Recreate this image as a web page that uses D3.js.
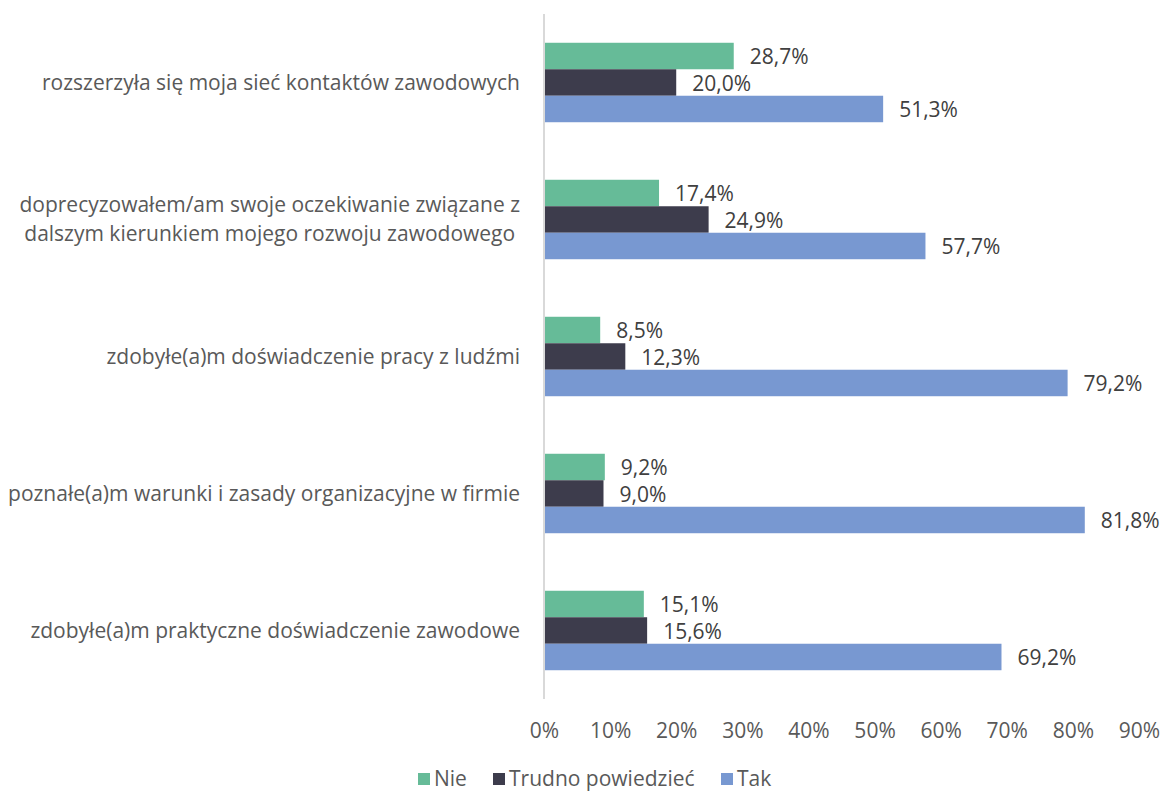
<!DOCTYPE html>
<html>
<head>
<meta charset="utf-8">
<script src="https://cdn.jsdelivr.net/npm/d3@7"></script>
<style>
  body { margin: 0; background: white; }
  svg { font-family: "Open Sans", sans-serif; }
</style>
</head>
<body>
<main></main>
<script>
// categories, top to bottom
const categories = [
    ["rozszerzyła się moja sieć kontaktów zawodowych"],
    ["doprecyzowałem/am swoje oczekiwanie związane z", "dalszym kierunkiem mojego rozwoju zawodowego"],
    ["zdobyłe(a)m doświadczenie pracy z ludźmi"],
    ["poznałe(a)m warunki i zasady organizacyjne w firmie"],
    ["zdobyłe(a)m praktyczne doświadczenie zawodowe"]
]
const seriesNames = ["Nie", "Trudno powiedzieć", "Tak"]
const nie = [28.7, 17.4, 8.5, 9.2, 15.1]
const trudno = [20.0, 24.9, 12.3, 9.0, 15.6]
const tak = [51.3, 57.7, 79.2, 81.8, 69.2]
const ticks = [0, 10, 20, 30, 40, 50, 60, 70, 80, 90]
const colors = ["#66bb98", "#3d3c4c", "#7898d1"]

const svgWidth = 1163
const svgHeight = 794

const plotLeft = 544
const plotRight = 1139
const plotTop = 14
const plotBottom = 699
const fontSize = "21px"

let svg = d3.select("main")
    .append("svg")
    .attr("width", svgWidth)
    .attr("height", svgHeight)

let rows = categories.map((c, i) => ({
    label: c,
    values: [nie[i], trudno[i], tak[i]]
}))

//scales
let xScale = d3.scaleLinear()
    .domain([0, 90])
    .range([plotLeft, plotRight])

let yScale = d3.scaleBand()
    .domain(d3.range(categories.length))
    .range([plotTop, plotBottom])
    .paddingInner(0.42)
    .paddingOuter(0.21)

let sScale = d3.scaleBand()
    .domain(d3.range(seriesNames.length))
    .range([0, yScale.bandwidth()])

let fmt = v => v.toFixed(1).replace(".", ",") + "%"

//bars
let groups = svg.selectAll("g.group")
    .data(rows)
    .enter()
    .append("g")
    .attr("class", "group")
    .attr("transform", (d, i) => `translate(0, ${yScale(i)})`)

groups.selectAll("rect")
    .data(d => d.values)
    .enter()
    .append("rect")
    .attr("x", xScale(0))
    .attr("y", (d, j) => sScale(j))
    .attr("width", d => xScale(d) - xScale(0))
    .attr("height", sScale.bandwidth())
    .attr("fill", (d, j) => colors[j])

groups.selectAll("text.val")
    .data(d => d.values)
    .enter()
    .append("text")
    .attr("class", "val")
    .attr("x", d => xScale(d) + 16)
    .attr("y", (d, j) => sScale(j) + sScale.bandwidth() / 2)
    .attr("dy", "0.4em")
    .attr("fill", "#404040")
    .style("font-size", fontSize)
    .text(fmt)

//category labels: block right-aligned at 520, lines centred inside it
let labels = groups.append("text")
    .attr("text-anchor", "middle")
    .attr("y", yScale.bandwidth() / 2)
    .attr("fill", "#595959")
    .style("font-size", fontSize)

labels.selectAll("tspan")
    .data(d => d.label)
    .enter()
    .append("tspan")
    .attr("dy", (d, i, n) => i == 0 ? `${0.35 - (n.length - 1) * 0.69}em` : "1.38em")
    .text(d => d)

labels.each(function() {
    let spans = d3.select(this).selectAll("tspan")
    let w = d3.max(spans.nodes(), n => n.getComputedTextLength())
    spans.attr("x", 520 - w / 2)
})

//vertical axis line
svg.append("line")
    .attr("x1", xScale(0))
    .attr("x2", xScale(0))
    .attr("y1", plotTop)
    .attr("y2", plotBottom)
    .attr("stroke", "#d9d9d9")
    .attr("stroke-width", 2)

//x axis
let bottomAxis = d3.axisBottom(xScale)
    .tickValues(ticks)
    .tickSize(0)
    .tickFormat(d => d + "%")

let xAxis = svg.append("g")
    .attr("transform", `translate(0, 720)`)
    .call(bottomAxis)

xAxis.select("path").remove()

xAxis.selectAll("text")
    .attr("fill", "#595959")
    .style("font-family", "Open Sans, sans-serif")
    .style("font-size", fontSize)

//legend
const legendX = [418, 493, 721]
let legend = svg.append("g")
    .selectAll("g")
    .data(seriesNames)
    .enter()
    .append("g")
    .attr("transform", (d, i) => `translate(${legendX[i]}, 779)`)

legend.append("rect")
    .attr("x", 0)
    .attr("y", -6)
    .attr("width", 12)
    .attr("height", 12)
    .attr("fill", (d, i) => colors[i])

legend.append("text")
    .attr("x", 16)
    .attr("dy", "0.35em")
    .attr("fill", "#595959")
    .style("font-size", fontSize)
    .text(d => d)
</script>
</body>
</html>
